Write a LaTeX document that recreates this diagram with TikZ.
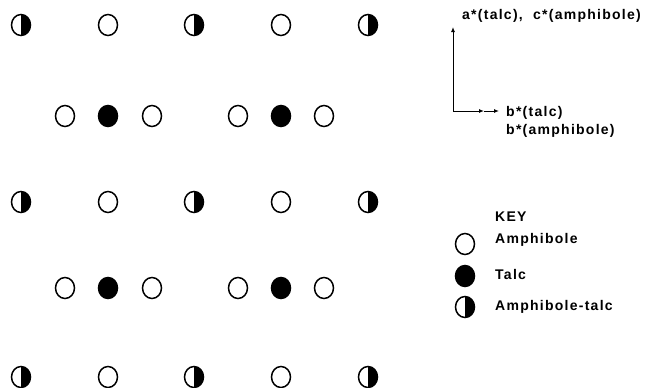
\documentclass[tikz,border=0pt]{standalone}
\usepackage{fontspec}
\setmainfont{Liberation Sans}[LetterSpace=9]
\usetikzlibrary{shapes.geometric,arrows.meta}
\begin{document}
\begin{tikzpicture}[x=1pt,y=-1pt,
  site/.style={ellipse,draw=black,line width=1.5pt,minimum width=19pt,minimum height=21pt,inner sep=0pt},
  amph/.style={site,fill=white},
  talc/.style={site,fill=black},
  mixed/.style={site,fill=white,path picture={\fill[black] (path picture bounding box.north) rectangle (path picture bounding box.south east);}},
  lbl/.style={font=\bfseries\fontsize{14}{16}\selectfont,inner sep=0pt,anchor=west},
  axarrow/.style={line width=1pt,-{Latex[length=5pt,width=4pt]}}]
\useasboundingbox (0,0) rectangle (657,388);
% row 1
\node[mixed] (a1) at (21,25) {};
\node[amph]  (a2) at (108,25) {};
\node[mixed] (a3) at (194,25) {};
\node[amph]  (a4) at (281,25) {};
\node[mixed] (a5) at (368,25) {};
% row 2
\node[amph] (b1) at (65,116) {};
\node[talc] (b2) at (108,116) {};
\node[amph] (b3) at (152,116) {};
\node[amph] (b4) at (238,116) {};
\node[talc] (b5) at (281,116) {};
\node[amph] (b6) at (324,116) {};
% row 3
\node[mixed] (c1) at (21,202) {};
\node[amph]  (c2) at (108,202) {};
\node[mixed] (c3) at (194,202) {};
\node[amph]  (c4) at (281,202) {};
\node[mixed] (c5) at (368,202) {};
% row 4
\node[amph] (d1) at (65,288) {};
\node[talc] (d2) at (108,288) {};
\node[amph] (d3) at (152,288) {};
\node[amph] (d4) at (238,288) {};
\node[talc] (d5) at (281,288) {};
\node[amph] (d6) at (324,288) {};
% row 5
\node[mixed] (e1) at (21,377) {};
\node[amph]  (e2) at (108,377) {};
\node[mixed] (e3) at (194,377) {};
\node[amph]  (e4) at (281,377) {};
\node[mixed] (e5) at (368,377) {};
% axes
\coordinate (o) at (453,111);
\coordinate (ya) at (453,27);
\coordinate (xb1) at (484,111);
\coordinate (xb2) at (499,111);
\draw[axarrow] (o) -- (ya);
\draw[axarrow] (o) -- (xb1);
\draw[axarrow] (xb1) -- (xb2);
\node[lbl] (la) at (462,16) {a*(talc),\ \ c*(amphibole)};
\node[lbl] (lb1) at (506,113) {b*(talc)};
\node[lbl] (lb2) at (506,131) {b*(amphibole)};
% key
\node[lbl] (key) at (495,217) {KEY};
\node[amph]  (k1) at (465,244) {};
\node[talc]  (k2) at (465,276) {};
\node[mixed] (k3) at (465,307) {};
\node[lbl] (t1) at (495,240) {Amphibole};
\node[lbl] (t2) at (495,274) {Talc};
\node[lbl] (t3) at (495,307) {Amphibole-talc};
\end{tikzpicture}
\end{document}
